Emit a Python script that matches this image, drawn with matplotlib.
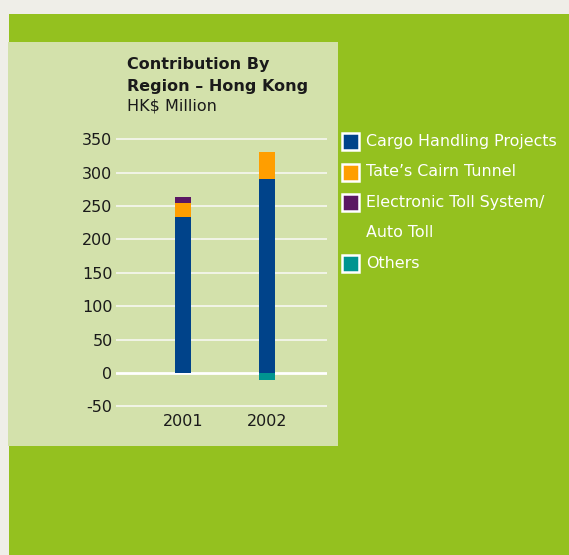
import matplotlib
matplotlib.use("Agg")
import matplotlib.pyplot as plt
from matplotlib.patches import Rectangle
import numpy as np

years = ["2001", "2002"]
cargo = [233, 290]
tates = [21, 41]
toll = [9, 0]
others = [0, -10]
y_ticks = [350, 300, 250, 200, 150, 100, 50, 0, -50]
legend_labels = ["Cargo Handling Projects", "Tate\u2019s Cairn Tunnel",
                 "Electronic Toll System/", "Others"]
legend_extra = "Auto Toll"

C_BG = "#efeee8"
C_GREEN = "#94c11f"
C_PANEL = "#d3e1ab"
C_BLUE = "#00438a"
C_ORANGE = "#ff9e00"
C_PURPLE = "#5a1763"
C_TEAL = "#009490"
C_TEXT = "#1a1a1a"

W, H = 569, 555
fig = plt.figure(figsize=(W / 100, H / 100), dpi=100, facecolor=C_BG)


def fx(px):
    return px / W


def fy(py):
    return 1 - py / H


# green backdrop and light chart panel
fig.patches.append(Rectangle((fx(9), 0), 1 - fx(9), fy(14), transform=fig.transFigure,
                             facecolor=C_GREEN, edgecolor="none", zorder=0))
fig.patches.append(Rectangle((fx(8), fy(446)), fx(338) - fx(8), fy(42) - fy(446),
                             transform=fig.transFigure, facecolor=C_PANEL,
                             edgecolor="none", zorder=1))

# axes area
top_px, bot_px = 373 - 360 * 0.668, 373 + 60 * 0.668
ax = fig.add_axes([fx(116), fy(bot_px), fx(327) - fx(116), fy(top_px) - fy(bot_px)])
ax.set_zorder(5)
ax.set_facecolor("none")
ax.set_ylim(-60, 360)
ax.set_xlim(-0.798, 1.714)
for s in ax.spines.values():
    s.set_visible(False)

for t in y_ticks:
    ax.axhline(t, color="white" if t == 0 else "#f4f6ec", lw=2.0 if t == 0 else 1.3, zorder=1)

x = np.arange(len(years))
bw = 0.19
cargo_a = np.array(cargo)
tates_a = np.array(tates)
toll_a = np.array(toll)
ax.bar(x, cargo_a, bw, color=C_BLUE, zorder=2)
ax.bar(x, tates_a, bw, bottom=cargo_a, color=C_ORANGE, zorder=2)
ax.bar(x, toll_a, bw, bottom=cargo_a + tates_a, color=C_PURPLE, zorder=2)
ax.bar(x, others, bw, bottom=0, color=C_TEAL, zorder=2)

ax.set_yticks(y_ticks)
ax.set_yticklabels([str(t) for t in y_ticks], fontsize=11.5, color=C_TEXT)
ax.set_xticks(x)
ax.set_xticklabels(years, fontsize=11.5, color=C_TEXT)
ax.tick_params(axis="both", length=0)
ax.tick_params(axis="y", pad=2.5)
ax.tick_params(axis="x", pad=0.5)

# title
fig.text(fx(127), fy(64), "Contribution By", fontsize=11.5, fontweight="bold",
         color=C_TEXT, va="center", ha="left", zorder=6)
fig.text(fx(127), fy(86), "Region \u2013 Hong Kong", fontsize=11.5, fontweight="bold",
         color=C_TEXT, va="center", ha="left", zorder=6)
fig.text(fx(127), fy(106), "HK$ Million", fontsize=11.5, color=C_TEXT,
         va="center", ha="left", zorder=6)

# legend
leg_colors = [C_BLUE, C_ORANGE, C_PURPLE, C_TEAL]
leg_y = [141, 172, 202, 263]
for col, lab, yc in zip(leg_colors, legend_labels, leg_y):
    fig.patches.append(Rectangle((fx(342), fy(yc + 8.5)), fx(17), fy(0) - fy(17),
                                 transform=fig.transFigure, facecolor=col,
                                 edgecolor="white", lw=1.8, zorder=3))
    fig.text(fx(366), fy(yc), lab, fontsize=11.4, color="white", va="center",
             ha="left", zorder=6)
fig.text(fx(366), fy(233), legend_extra, fontsize=11.4, color="white", va="center",
         ha="left", zorder=6)

fig.savefig("out.png", dpi=100, facecolor=C_BG)
